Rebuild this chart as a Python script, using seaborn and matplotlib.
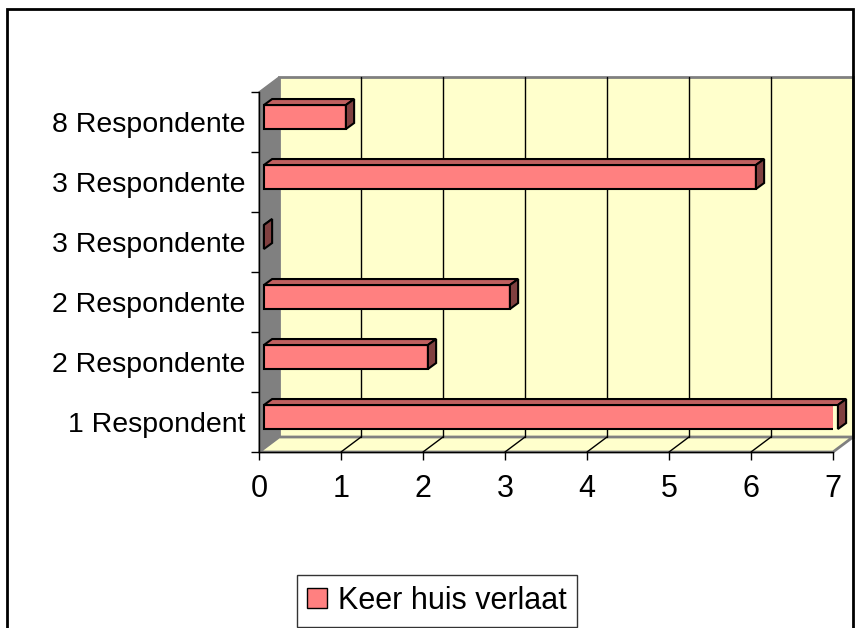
import pandas as pd
import matplotlib
matplotlib.use('Agg')
import matplotlib.pyplot as plt
from matplotlib.patches import Polygon, Rectangle
import seaborn as sns

# data (top to bottom as in the chart)
labels = ['8 Respondente', '3 Respondente', '3 Respondente',
          '2 Respondente', '2 Respondente', '1 Respondent']
values = [1, 6, 0, 3, 2, 7]
series_name = 'Keer huis verlaat'
x_ticks = [0, 1, 2, 3, 4, 5, 6, 7]

df = pd.DataFrame({'key': range(len(labels)), 'value': values})

sns.set_theme(style='white')
plt.rcParams['font.family'] = ['Liberation Sans', 'DejaVu Sans']
plt.rcParams['text.color'] = 'black'
plt.rcParams['xtick.color'] = 'black'
plt.rcParams['ytick.color'] = 'black'

fig = plt.figure(figsize=(8.57, 6.28), dpi=100)
W, H = 857, 628
ax = fig.add_axes([259 / W, 1 - 452 / H, (833 - 259) / W, (452 - 92) / H])

front = '#FF8080'
top_c = '#BF6060'
side_c = '#804040'
wall = '#FFFFCC'
grey = '#808080'

# depth of the 3d box (data units)
dx, dy = 0.244, 0.25
xmax = x_ticks[-1]
n = len(labels)
ylo, yhi = n - 0.5, -0.5   # bottom, top (y inverted)

# back wall
ax.add_patch(Polygon([(dx, ylo - dy), (xmax + dx, ylo - dy), (xmax + dx, yhi - dy), (dx, yhi - dy)],
                     closed=True, facecolor=wall, edgecolor=grey, lw=2, zorder=0, clip_on=False))
# floor
ax.add_patch(Polygon([(0, ylo), (xmax, ylo), (xmax + dx, ylo - dy), (dx, ylo - dy)],
                     closed=True, facecolor=wall, edgecolor=grey, lw=2, zorder=0, clip_on=False))
# left side wall
ax.add_patch(Polygon([(0, ylo), (dx, ylo - dy), (dx, yhi - dy), (0, yhi)],
                     closed=True, facecolor=grey, edgecolor=grey, lw=1, zorder=0, clip_on=False))
# gridlines on wall and floor
for t in x_ticks[1:-1]:
    ax.plot([t + dx, t + dx], [ylo - dy, yhi - dy], color='black', lw=1, zorder=1, clip_on=False)
    ax.plot([t, t + dx], [ylo, ylo - dy], color='black', lw=1, zorder=1, clip_on=False)

# bars (front faces)
sns.barplot(data=df, x='value', y='key', orient='h', color=front, saturation=1,
            width=0.4, edgecolor='black', linewidth=1.5, ax=ax, zorder=3)

# bar offset inside the box and bar depth
fx, fy = 0.06, 0.083
bx, by = 0.1, 0.1
hw = 0.2
for p in ax.patches:
    if isinstance(p, Rectangle):
        p.set_x(p.get_x() + fx)
        p.set_y(p.get_y() - fy)
for i, v in enumerate(values):
    yt = i - hw - fy
    yb = i + hw - fy
    ax.add_patch(Polygon([(fx, yt), (v + fx, yt), (v + fx + bx, yt - by), (fx + bx, yt - by)],
                         closed=True, facecolor=top_c, edgecolor='black', lw=1.5, zorder=3, clip_on=False))
    ax.add_patch(Polygon([(v + fx, yt), (v + fx, yb), (v + fx + bx, yb - by), (v + fx + bx, yt - by)],
                         closed=True, facecolor=side_c, edgecolor='black', lw=1.5, zorder=3, clip_on=False))

ax.set_xlim(0, xmax)
ax.set_ylim(ylo, yhi)
ax.set_xlabel('')
ax.set_ylabel('')
ax.set_xticks(x_ticks)
ax.set_xticklabels([str(t) for t in x_ticks], fontsize=22)
ax.set_yticks(range(n))
ax.set_yticklabels(labels, fontsize=20.5)
ax.set_yticks([k - 0.5 for k in range(n + 1)], minor=True)
ax.tick_params(axis='y', which='major', length=0, pad=10)
ax.tick_params(axis='y', which='minor', length=6, width=1, color='black', direction='out', left=True)
ax.tick_params(axis='x', length=6, width=1, color='black', direction='out', bottom=True, pad=10)
for s in ['top', 'right']:
    ax.spines[s].set_visible(False)
for s in ['left', 'bottom']:
    ax.spines[s].set_color('black')
    ax.spines[s].set_linewidth(1)
    ax.spines[s].set_zorder(2)
ax.set_facecolor('none')
ax.grid(False)

# legend
leg_handle = Rectangle((0, 0), 1, 1, facecolor=front, edgecolor='black', lw=1)
leg = fig.legend([leg_handle], [series_name], loc='center', bbox_to_anchor=(437 / W, 1 - 601 / H),
                 fontsize=22, frameon=True, fancybox=False, shadow=False,
                 handlelength=0.65, handleheight=0.65, handletextpad=0.35, borderpad=0.35)
leg.get_frame().set_edgecolor('black')
leg.get_frame().set_linewidth(1)

# chart area border
fig.patches.append(Rectangle((7 / W, -0.1), (853 - 7) / W, 1.1 - 9 / H, transform=fig.transFigure,
                             facecolor='none', edgecolor='black', lw=2))

fig.savefig('out.png', dpi=100)
